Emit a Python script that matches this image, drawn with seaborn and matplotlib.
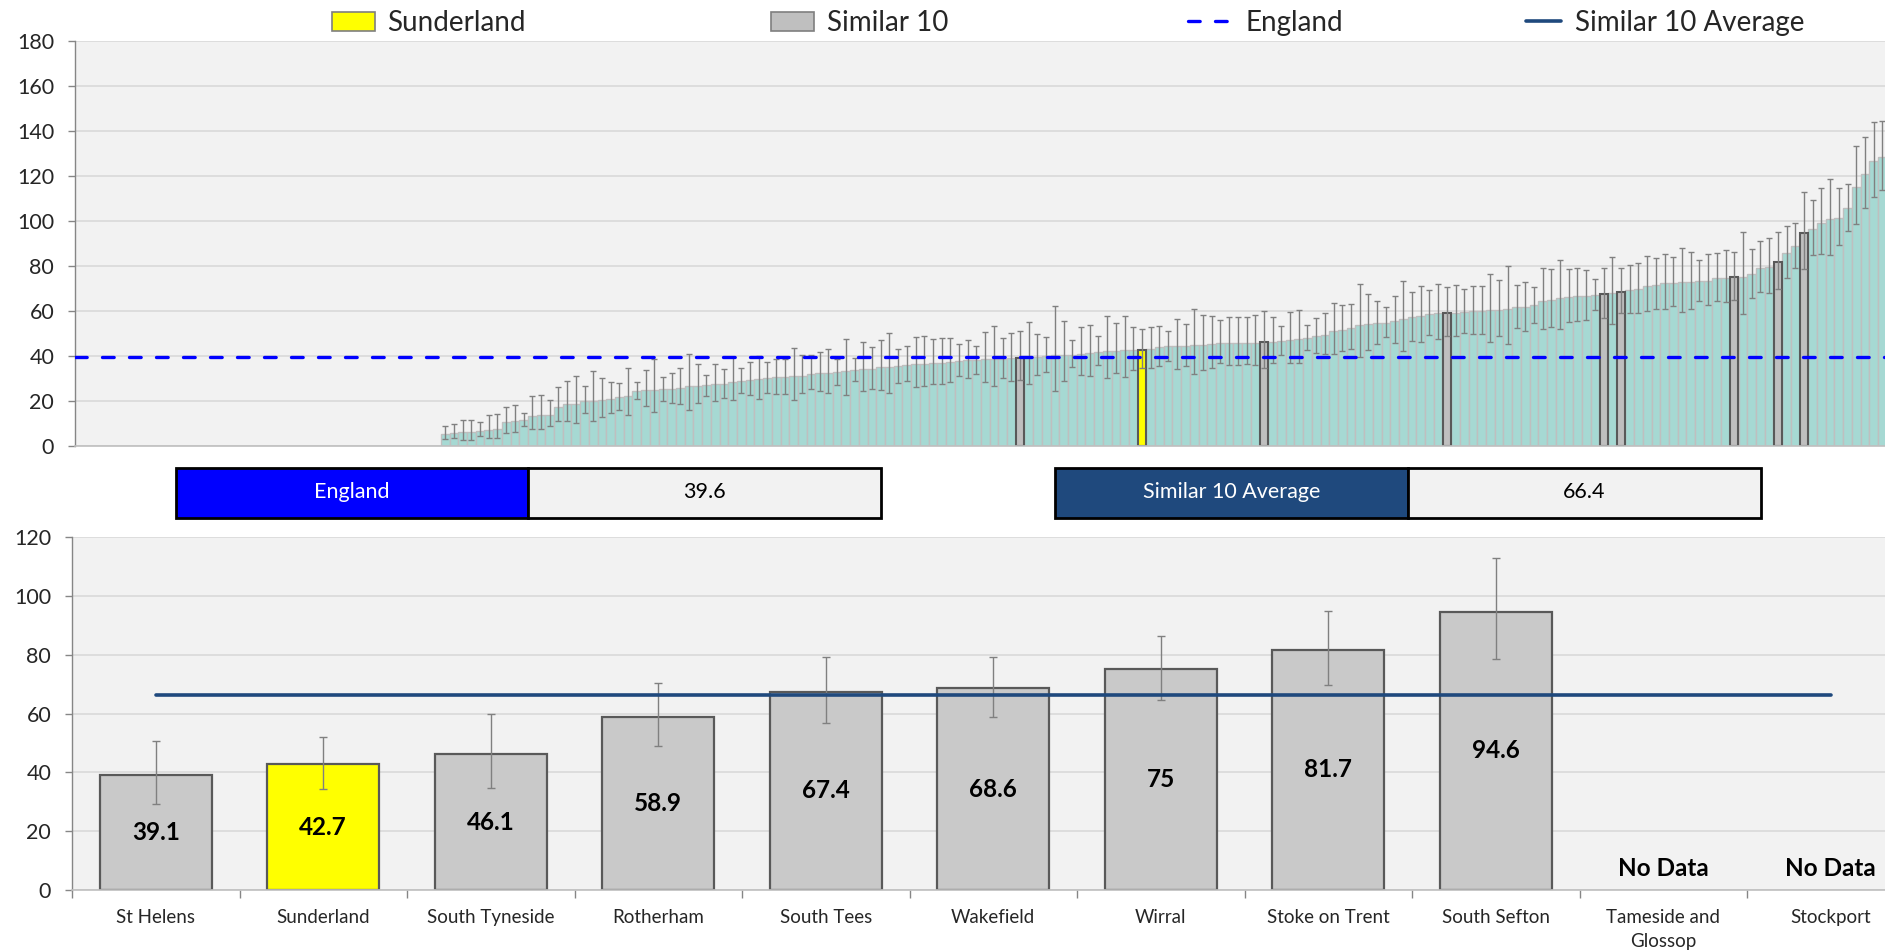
import numpy as np
import pandas as pd
import matplotlib
matplotlib.use("Agg")
import matplotlib.pyplot as plt
from matplotlib.patches import Patch, Rectangle
from matplotlib.lines import Line2D
import seaborn as sns

# ---- ranking of all areas (sorted); the first slots have no value ----
n_blank = 42
rank_value = [
    5.5, 6.0, 6.3, 6.3, 6.7, 7.3, 7.6, 10.6, 11.0, 11.6,
    13.4, 13.9, 13.9, 17.5, 18.7, 18.8, 20.0, 20.0, 20.3, 21.0,
    21.6, 22.4, 24.5, 24.8, 25.1, 25.2, 25.4, 26.0, 26.5, 26.8,
    26.9, 27.4, 27.4, 28.6, 29.0, 29.3, 29.6, 30.4, 30.7, 30.7,
    31.1, 31.3, 31.8, 32.3, 32.3, 32.7, 33.5, 33.9, 34.1, 34.4,
    35.0, 35.3, 35.4, 36.2, 36.5, 36.5, 36.9, 37.1, 37.5, 37.9,
    38.2, 38.4, 38.5, 38.5, 38.7, 39.0, 39.1, 39.7, 39.7, 40.0,
    40.3, 40.5, 40.6, 41.1, 41.4, 41.8, 42.3, 42.4, 42.6, 42.7,
    42.7, 43.3, 43.8, 44.3, 44.4, 44.6, 45.0, 45.0, 45.3, 45.8,
    45.8, 45.9, 45.9, 46.0, 46.1, 46.4, 46.5, 47.3, 47.7, 48.1,
    48.7, 49.5, 51.1, 51.6, 52.6, 53.8, 54.1, 54.5, 54.8, 55.6,
    56.4, 57.2, 57.8, 58.8, 58.9, 58.9, 59.3, 59.6, 59.9, 60.0,
    60.3, 60.6, 61.0, 61.6, 61.6, 62.7, 64.6, 65.0, 65.9, 66.2,
    66.7, 66.8, 67.3, 67.4, 67.9, 68.6, 69.2, 69.8, 71.3, 71.4,
    72.3, 72.6, 72.9, 72.9, 73.2, 73.5, 74.5, 74.8, 75.0, 75.3,
    76.4, 79.0, 79.4, 81.7, 85.6, 88.7, 94.6, 96.4, 99.1, 100.7,
    101.5, 105.9, 115.1, 120.7, 126.7, 128.4,
]
rank_lower = [
    3.0, 3.4, 2.7, 2.7, 4.3, 3.4, 3.6, 5.8, 6.1, 8.8,
    7.5, 7.6, 9.1, 11.0, 11.3, 10.4, 14.8, 11.2, 13.0, 14.6,
    16.1, 13.7, 20.9, 17.8, 15.2, 20.1, 19.3, 18.8, 16.1, 18.9,
    22.3, 19.8, 21.3, 20.4, 23.5, 22.6, 21.1, 23.5, 23.2, 23.1,
    20.5, 23.4, 25.3, 24.3, 23.5, 26.9, 22.6, 28.7, 24.3, 25.4,
    24.7, 23.7, 28.1, 29.0, 26.3, 26.6, 27.4, 27.5, 28.4, 31.1,
    30.1, 32.1, 28.6, 26.8, 30.2, 28.9, 29.4, 27.7, 31.4, 33.0,
    24.6, 29.0, 35.1, 31.7, 31.1, 35.9, 30.2, 32.4, 30.7, 33.9,
    34.6, 34.8, 35.5, 37.9, 34.1, 35.7, 32.0, 33.8, 34.5, 36.7,
    36.0, 36.1, 36.3, 35.9, 34.8, 37.0, 40.3, 36.7, 37.0, 42.7,
    41.3, 41.0, 40.9, 42.1, 43.3, 39.6, 42.5, 45.5, 48.4, 45.6,
    42.4, 46.8, 46.4, 49.5, 47.7, 49.0, 48.9, 50.4, 49.6, 49.8,
    46.2, 48.9, 45.2, 52.3, 51.3, 54.7, 52.0, 52.9, 52.0, 55.0,
    55.4, 56.1, 60.4, 57.0, 54.2, 59.0, 59.0, 59.0, 60.0, 60.7,
    60.7, 62.2, 59.7, 60.9, 64.3, 62.8, 64.4, 63.9, 64.7, 58.8,
    65.9, 68.3, 68.1, 69.6, 74.8, 79.1, 78.7, 84.7, 85.2, 84.7,
    89.3, 95.7, 98.8, 105.6, 110.7, 113.8,
]
rank_upper = [
    8.8, 10.0, 11.5, 11.6, 10.6, 13.7, 14.2, 17.5, 18.2, 14.8,
    22.2, 22.8, 20.6, 26.1, 29.0, 31.2, 26.6, 33.4, 30.1, 28.4,
    28.1, 34.5, 28.5, 33.9, 38.7, 30.7, 32.5, 34.7, 40.8, 36.3,
    31.5, 36.5, 34.4, 39.6, 34.8, 37.2, 40.2, 37.4, 38.8, 38.8,
    43.6, 40.5, 40.5, 42.0, 43.2, 38.7, 47.6, 39.3, 46.1, 44.2,
    47.3, 50.1, 43.3, 44.5, 48.5, 48.8, 47.6, 47.9, 47.9, 45.4,
    47.2, 44.5, 50.7, 53.4, 48.2, 50.3, 50.9, 55.2, 50.0, 48.4,
    62.1, 55.5, 47.3, 52.7, 53.9, 49.1, 57.7, 54.8, 58.0, 52.8,
    52.2, 52.7, 53.3, 51.0, 56.3, 54.4, 60.7, 58.4, 57.8, 55.9,
    57.2, 57.3, 57.5, 58.1, 60.0, 57.2, 53.5, 59.4, 60.3, 53.6,
    56.7, 59.3, 63.4, 62.5, 63.1, 72.0, 67.7, 64.6, 61.9, 66.8,
    73.2, 68.3, 71.0, 69.5, 72.0, 70.5, 71.6, 69.9, 71.0, 71.3,
    76.4, 73.8, 79.9, 71.7, 73.0, 70.7, 79.3, 78.8, 82.5, 78.7,
    79.3, 78.2, 74.4, 79.2, 84.0, 79.3, 80.6, 81.5, 84.6, 83.4,
    85.5, 84.1, 88.1, 86.4, 82.5, 85.5, 85.8, 87.0, 86.3, 95.0,
    87.7, 91.0, 92.6, 95.0, 97.8, 99.0, 112.9, 109.5, 114.7, 118.8,
    114.8, 116.6, 133.5, 137.3, 144.0, 144.4,
]
similar10_rank = [66, 94, 115, 133, 135, 148, 153, 156]
sunderland_rank = 80

# ---- Similar 10 comparison ----
areas = ["St Helens", "Sunderland", "South Tyneside", "Rotherham", "South Tees",
         "Wakefield", "Wirral", "Stoke on Trent", "South Sefton",
         "Tameside and\nGlossop", "Stockport"]
area_value = [39.1, 42.7, 46.1, 58.9, 67.4, 68.6, 75.0, 81.7, 94.6, np.nan, np.nan]
area_lower = [29.4, 34.5, 34.7, 48.9, 56.9, 58.9, 64.6, 69.6, 78.4, np.nan, np.nan]
area_upper = [50.8, 52.1, 59.8, 70.5, 79.2, 79.3, 86.3, 95.0, 112.9, np.nan, np.nan]
area_group = ["Similar 10", "Sunderland"] + ["Similar 10"] * 9

england_value = 39.6
similar10_avg = 66.4

assert len(rank_value) == len(rank_lower) == len(rank_upper)

W, H = 1885, 951
TEAL = "#a6d9d3"
GREY_BAR = "#bfbfbf"
YELLOW = "#ffff00"
BLUE = "#0000ff"
NAVY = "#1f497d"
PANEL_BG = "#f2f2f2"
GRID = "#d9d9d9"
AXIS = "#868686"

sns.set_theme(style="white")
plt.rcParams["font.family"] = ["Lato", "DejaVu Sans"]


def style_axis(ax, ymax, step):
    ax.set_facecolor(PANEL_BG)
    ax.set_ylim(0, ymax)
    ax.set_yticks(np.arange(0, ymax + 1, step))
    ax.grid(axis="y", color=GRID, linewidth=1.2)
    ax.grid(axis="x", visible=False)
    ax.set_axisbelow(True)
    for side in ["top", "right"]:
        ax.spines[side].set_visible(False)
    ax.spines["left"].set_color(AXIS)
    ax.spines["bottom"].set_color("#bfbfbf")
    ax.spines["left"].set_linewidth(1.0)
    ax.spines["bottom"].set_linewidth(1.2)
    ax.tick_params(axis="y", length=5, width=1, color=AXIS, labelsize=15.5,
                   pad=10, left=True)
    ax.set_xlabel("")
    ax.set_ylabel("")


fig = plt.figure(figsize=(W / 100, H / 100), dpi=100)

# ---------------- top panel: every area ----------------
n_rank = len(rank_value)
n_slots = n_blank + n_rank
groups = ["All areas"] * n_rank
for k in similar10_rank:
    groups[k] = "Similar 10"
groups[sunderland_rank] = "Sunderland"
top_df = pd.DataFrame({
    "slot": n_blank + np.arange(n_rank),
    "value": rank_value,
    "lower": rank_lower,
    "upper": rank_upper,
    "group": groups,
})

ax1 = fig.add_axes([75 / W, 505 / H, 1811.7 / W, 405 / H])
hue_order = ["All areas", "Similar 10", "Sunderland"]
sns.barplot(data=top_df, x="slot", y="value", hue="group", hue_order=hue_order,
            order=list(range(n_slots)),
            palette={"All areas": TEAL, "Similar 10": GREY_BAR, "Sunderland": YELLOW},
            saturation=1, dodge=False, width=1.0, errorbar=None, legend=False,
            edgecolor="#bfbfbf", linewidth=1.0, ax=ax1)
for name, cont in zip(hue_order, ax1.containers):
    if name != "All areas":
        for bar in cont:
            bar.set_edgecolor("#595959")
            bar.set_linewidth(1.5)
            bar.set_width(0.9)
            bar.set_x(bar.get_x() + 0.05)
            bar.set_zorder(2.5)
ax1.errorbar(top_df["slot"], top_df["value"],
             yerr=[top_df["value"] - top_df["lower"], top_df["upper"] - top_df["value"]],
             fmt="none", ecolor="#808080", elinewidth=1.0, capsize=2.5, capthick=1.0,
             zorder=3)
ax1.axhline(england_value, color=BLUE, linewidth=2.4, linestyle=(0, (3.5, 4.6)),
            dash_capstyle="round", zorder=4)
style_axis(ax1, 180, 20)
ax1.set_xlim(-0.5, n_slots - 0.5)
ax1.set_xticks([])

# ---------------- middle boxes ----------------
def value_box(x0, x1, x2, label, value, color):
    y0, y1 = H - 517.5, H - 467.5
    fig.add_artist(Rectangle((x0 / W, y0 / H), (x1 - x0) / W, (y1 - y0) / H,
                             transform=fig.transFigure, facecolor=color,
                             edgecolor="black", linewidth=2))
    fig.add_artist(Rectangle((x1 / W, y0 / H), (x2 - x1) / W, (y1 - y0) / H,
                             transform=fig.transFigure, facecolor=PANEL_BG,
                             edgecolor="black", linewidth=2))
    yc = (y0 + y1) / 2 / H
    fig.text((x0 + x1) / 2 / W, yc, label, color="white", fontsize=15.5,
             ha="center", va="center")
    fig.text((x1 + x2) / 2 / W, yc, f"{value}", color="black", fontsize=15.5,
             ha="center", va="center")


value_box(175.5, 528, 881, "England", england_value, BLUE)
value_box(1055, 1408, 1761, "Similar 10 Average", similar10_avg, NAVY)

# ---------------- bottom panel: Similar 10 ----------------
bot_df = pd.DataFrame({
    "area": areas,
    "value": area_value,
    "lower": area_lower,
    "upper": area_upper,
    "group": area_group,
})
ax2 = fig.add_axes([72 / W, 61 / H, 1842.5 / W, 353 / H])
sns.barplot(data=bot_df, x="area", y="value", hue="group", order=areas,
            hue_order=["Similar 10", "Sunderland"],
            palette={"Similar 10": "#c9c9c9", "Sunderland": YELLOW},
            saturation=1, dodge=False, width=0.67, errorbar=None, legend=False,
            edgecolor="#595959", linewidth=1.6, ax=ax2)
xpos = np.arange(len(areas))
ok = ~np.isnan(bot_df["value"].to_numpy())
ax2.errorbar(xpos[ok], bot_df["value"][ok],
             yerr=[(bot_df["value"] - bot_df["lower"])[ok],
                   (bot_df["upper"] - bot_df["value"])[ok]],
             fmt="none", ecolor="#808080", elinewidth=1.0, capsize=3, capthick=1.0,
             zorder=4)
ax2.plot([0, len(areas) - 1], [similar10_avg, similar10_avg], color=NAVY,
         linewidth=2.6, solid_capstyle="round", zorder=5)
for i, v in enumerate(area_value):
    if np.isnan(v):
        ax2.text(i, 4.9, "No Data", ha="center", va="baseline", fontsize=17.5,
                 fontweight="bold", color="black")
    else:
        ax2.text(i, v / 2, f"{v:g}", ha="center", va="center", fontsize=17.5,
                 fontweight="bold", color="black", zorder=6)
style_axis(ax2, 120, 20)
ax2.set_xlim(-0.5, len(areas) - 0.5)
ax2.set_xticks(xpos)
ax2.set_xticklabels(areas, fontsize=13.5, linespacing=1.45)
ax2.set_xticks(np.arange(-0.5, len(areas), 1.0), minor=True)
ax2.tick_params(axis="x", which="major", length=0, pad=14)
ax2.tick_params(axis="x", which="minor", length=6, width=1, color=AXIS,
                bottom=True, direction="out")

# ---------------- legend ----------------
leg_y = (H - 23) / H
legend_items = [
    (332, Patch(facecolor=YELLOW, edgecolor="#7f7f7f", linewidth=1.2), "Sunderland", 1.55, 0.45),
    (771, Patch(facecolor=GREY_BAR, edgecolor="#7f7f7f", linewidth=1.2), "Similar 10", 1.55, 0.45),
    (1188, Line2D([], [], color=BLUE, linewidth=2.4, linestyle=(0, (3.5, 4.6)),
                  dash_capstyle="round"), "England", 1.5, 0.58),
    (1526, Line2D([], [], color=NAVY, linewidth=2.6), "Similar 10 Average", 1.25, 0.5),
]
for x_px, handle, label, hl, tp in legend_items:
    fig.legend([handle], [label], loc="center left", bbox_to_anchor=(x_px / W, leg_y),
               frameon=False, borderpad=0, borderaxespad=0, fontsize=20,
               handlelength=hl, handletextpad=tp, handleheight=0.65)

fig.savefig("out.png", dpi=100)
